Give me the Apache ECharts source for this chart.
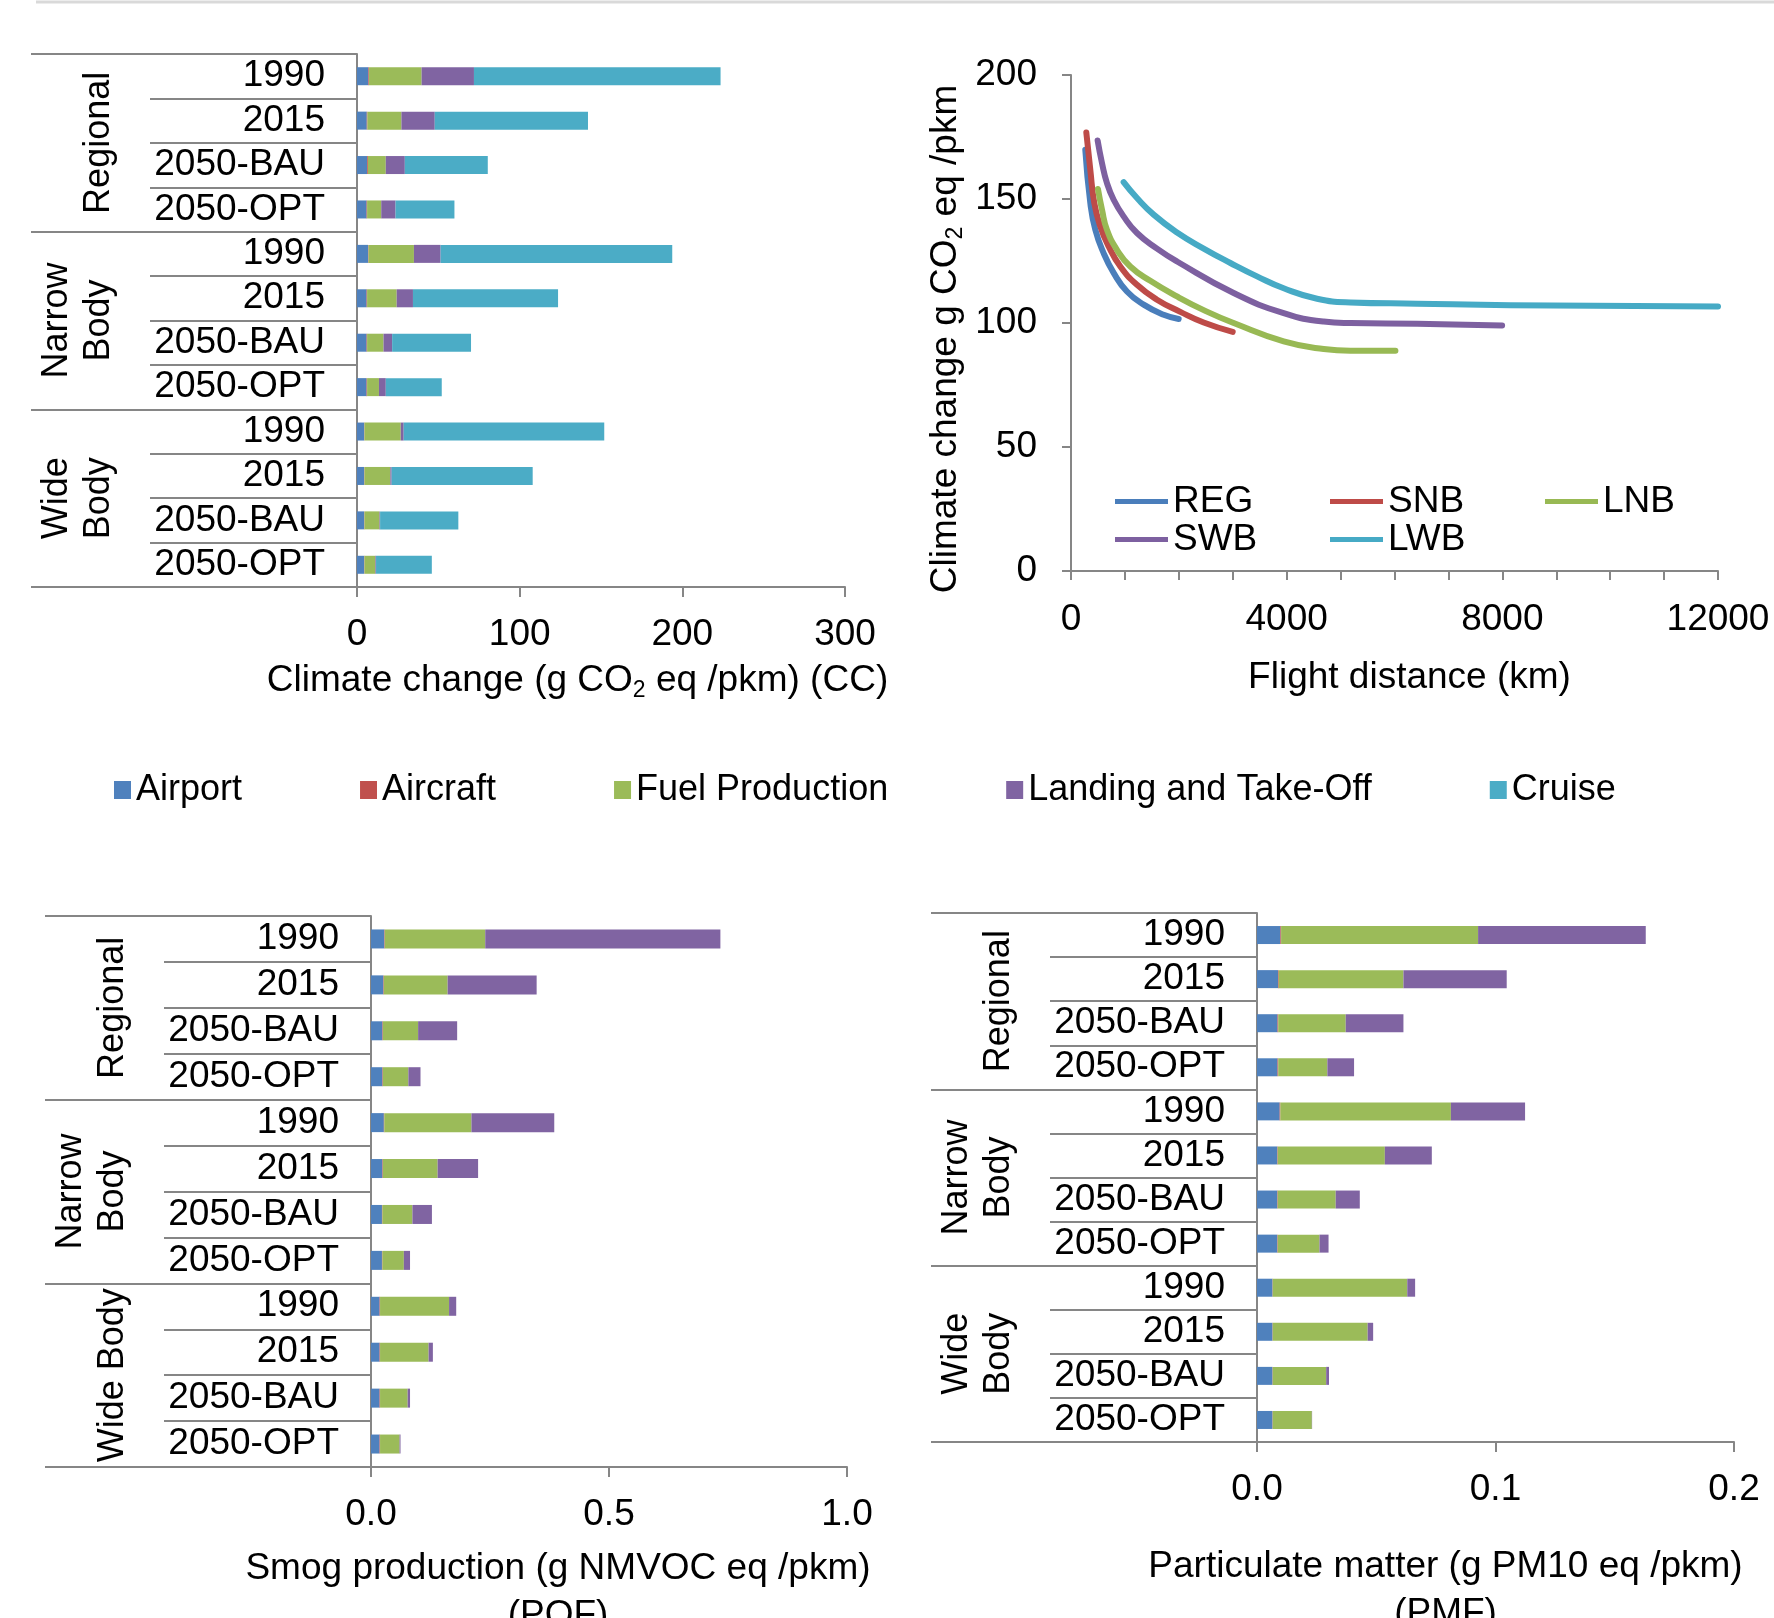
<!DOCTYPE html>
<html>
<head>
<meta charset="utf-8">
<script src="https://cdn.jsdelivr.net/npm/echarts@6/dist/echarts.min.js"></script>
<style>
  html, body { margin: 0; padding: 0; background: #fff; }
  #chart { width: 1774px; height: 1618px; }
</style>
</head>
<body>
<div id="chart"></div>
<script>
// categories
const years = ['1990', '2015', '2050-BAU', '2050-OPT', '1990', '2015', '2050-BAU', '2050-OPT', '1990', '2015', '2050-BAU', '2050-OPT'];
const groups = ['Regional', 'Narrow\nBody', 'Wide\nBody'];
const groupsPof = ['Regional', 'Narrow\nBody', 'Wide Body'];
const parts = ['Airport', 'Aircraft', 'Fuel Production', 'Landing and Take-Off', 'Cruise'];

// climate change (g CO2 eq / pkm)
const ccAirport = [7.0, 6.0, 6.2, 5.9, 6.8, 5.9, 5.9, 5.9, 4.4, 4.4, 4.4, 4.4];
const ccAircraft = [0.4, 0.4, 0.5, 0.3, 0.3, 0.3, 0.3, 0.3, 0.2, 0.2, 0.2, 0.2];
const ccFuel = [32.3, 20.9, 11.0, 8.7, 27.9, 18.2, 10.1, 7.3, 22.3, 15.9, 9.2, 6.7];
const ccLto = [32.2, 20.5, 11.7, 8.8, 16.4, 10.0, 5.3, 4.2, 1.8, 0.8, 0.4, 0.4];
const ccCruise = [151.6, 94.2, 51.0, 36.2, 142.4, 89.2, 48.5, 34.4, 123.3, 86.7, 48.1, 34.3];

// smog production (g NMVOC eq / pkm)
const pofAirport = [0.028, 0.026, 0.024, 0.024, 0.027, 0.024, 0.023, 0.023, 0.018, 0.018, 0.018, 0.018];
const pofAircraft = [0.001, 0.001, 0.001, 0.001, 0.001, 0.001, 0.001, 0.001, 0.001, 0.001, 0.001, 0.001];
const pofFuel = [0.211, 0.134, 0.074, 0.0535, 0.183, 0.115, 0.063, 0.045, 0.145, 0.102, 0.058, 0.041];
const pofLto = [0.494, 0.187, 0.082, 0.0255, 0.174, 0.085, 0.041, 0.013, 0.015, 0.009, 0.005, 0.002];
const pofCruise = [0, 0, 0, 0, 0, 0, 0, 0, 0, 0, 0, 0];

// particulate matter (g PM10 eq / pkm)
const pmfAirport = [0.0098, 0.0088, 0.0086, 0.0086, 0.0095, 0.0085, 0.0085, 0.0085, 0.0065, 0.0065, 0.0065, 0.0065];
const pmfAircraft = [0.0003, 0.0003, 0.0003, 0.0003, 0.0003, 0.0002, 0.0002, 0.0002, 0.0001, 0.0001, 0.0001, 0.0001];
const pmfFuel = [0.0826, 0.0523, 0.0283, 0.0206, 0.0715, 0.0449, 0.0243, 0.0175, 0.0564, 0.0398, 0.0224, 0.0164];
const pmfLto = [0.0703, 0.0433, 0.0242, 0.0112, 0.0311, 0.0197, 0.0101, 0.0038, 0.0033, 0.0023, 0.0012, 0.0001];
const pmfCruise = [0, 0, 0, 0, 0, 0, 0, 0, 0, 0, 0, 0];

// climate change vs flight distance (km, g CO2 eq / pkm)
const regDist = [265, 358, 451, 605, 791, 1038, 1348, 1719, 1997];
const regCc = [169.9, 148.4, 137.6, 128.2, 120.2, 112.7, 107.4, 103.3, 101.6];
const snbDist = [284, 358, 432, 544, 698, 915, 1224, 1595, 2028, 2461, 2999];
const snbCc = [176.8, 161.8, 148.4, 138.9, 130.9, 122.8, 115.4, 109.4, 104.5, 100.2, 96.4];
const lnbDist = [500, 575, 667, 853, 1100, 1471, 1966, 2500, 3017, 3945, 4687, 5182, 6017];
const lnbCc = [154, 145.7, 137.6, 129.5, 122.8, 117, 110.7, 104.8, 100, 92.6, 89.5, 88.8, 88.8];
const swbDist = [494, 575, 667, 791, 976, 1224, 1595, 1967, 3017, 3945, 4687, 5182, 6419, 7996];
const swbCc = [173.6, 164.5, 156.4, 149.7, 143, 136.3, 130, 124.8, 112.1, 104, 100.6, 100, 99.7, 99];
const lwbDist = [976, 1224, 1533, 1966, 2461, 2956, 3450, 3945, 4564, 5182, 6419, 8150, 12000];
const lwbCc = [156.8, 150.4, 143.7, 136.5, 130, 124.2, 118.8, 114, 109.8, 108.3, 107.8, 107.2, 106.7];

const FONT = 'Liberation Sans, Arial, sans-serif';
const AXIS = '#868686';
const partColors = ['#4F81BD', '#C0504D', '#9BBB59', '#8064A2', '#4BACC6'];
const lineColors = { REG: '#4A7EBB', SNB: '#BE4B48', LNB: '#98B954', SWB: '#7D60A0', LWB: '#46AAC5' };

const chart = echarts.init(document.getElementById('chart'));

const axisLine = { show: true, lineStyle: { color: AXIS, width: 2 } };
const subRich = {
    a: { fontSize: 37, lineHeight: 42, color: '#000', fontFamily: FONT },
    s: { fontSize: 23, lineHeight: 23, verticalAlign: 'bottom', color: '#000', fontFamily: FONT }
};

function yearAxis(gridIndex) {
    return {
        type: 'category', gridIndex, data: years, inverse: true, position: 'left',
        axisLine,
        axisTick: { show: true, interval: 0, length: 207, lineStyle: { color: AXIS, width: 2 } },
        axisLabel: { interval: 0, margin: 32, fontSize: 37, color: '#000', fontFamily: FONT },
        splitLine: { show: false }
    };
}

function groupAxis(gridIndex, data) {
    return {
        type: 'category', gridIndex, data, inverse: true, position: 'left', offset: 0,
        axisLine: { show: false },
        axisTick: { show: true, interval: 0, length: 326, lineStyle: { color: AXIS, width: 2 } },
        axisLabel: { interval: 0, rotate: 90, margin: 237, fontSize: 36, lineHeight: 42, color: '#000', fontFamily: FONT },
        splitLine: { show: false }
    };
}

function valueAxis(gridIndex, max, interval, digits, name, nameGap, padRight) {
    return {
        type: 'value', gridIndex, min: 0, max, interval,
        axisLine,
        axisTick: { show: true, length: 10, lineStyle: { color: AXIS, width: 2 } },
        splitLine: { show: false },
        axisLabel: {
            margin: 29, fontSize: 37, color: '#000', fontFamily: FONT,
            formatter: v => v.toFixed(digits)
        },
        name, nameLocation: 'middle', nameGap,
        nameTextStyle: {
            fontSize: 37, color: '#000', fontFamily: FONT, lineHeight: 47,
            padding: [0, padRight, 0, 0],
            rich: subRich
        }
    };
}

function barSeries(stack, xIdx, yIdx, lists, width) {
    return lists.map((data, i) => ({
        type: 'bar', name: parts[i], stack, xAxisIndex: xIdx, yAxisIndex: yIdx,
        data, barWidth: width, itemStyle: { color: partColors[i] }, silent: true
    }));
}

function lineSeries(name, dist, vals) {
    return {
        type: 'line', name, xAxisIndex: 1, yAxisIndex: 2,
        data: dist.map((d, i) => [d, vals[i]]),
        smooth: 0.5, symbol: 'none',
        lineStyle: { width: 6, color: lineColors[name], cap: 'round', join: 'round' },
        itemStyle: { color: lineColors[name] }
    };
}

// one legend per line so the entries sit in fixed columns
const lineLegend = (name, left, top) => ({
    data: [name], top, left, icon: 'rect',
    itemWidth: 53, itemHeight: 5, selectedMode: false,
    textStyle: { fontSize: 37, color: '#000', fontFamily: FONT }
});

const option = {
    animation: false,
    backgroundColor: '#fff',
    graphic: [{
        type: 'line', shape: { x1: 36, y1: 2, x2: 1774, y2: 2 },
        style: { stroke: '#d9d9d9', lineWidth: 3 }
    }],
    legend: [
        {
            data: parts, top: 767, left: 109, icon: 'rect', itemWidth: 17, itemHeight: 18, itemGap: 118,
            selectedMode: false,
            textStyle: { fontSize: 36, color: '#000', fontFamily: FONT }
        },
        lineLegend('REG', 1110, 478),
        lineLegend('SNB', 1325, 478),
        lineLegend('LNB', 1540, 478),
        lineLegend('SWB', 1110, 516),
        lineLegend('LWB', 1325, 516)
    ],
    grid: [
        { left: 357, top: 54, width: 488, height: 533, outerBoundsMode: 'none', containLabel: false },
        { left: 1071, top: 75, width: 647, height: 496, outerBoundsMode: 'none', containLabel: false },
        { left: 371, top: 916, width: 476, height: 551, outerBoundsMode: 'none', containLabel: false },
        { left: 1257, top: 913, width: 477, height: 529, outerBoundsMode: 'none', containLabel: false }
    ],
    xAxis: [
        valueAxis(0, 300, 100, 0, '{a|Climate change (g CO}{s|2}{a| eq /pkm) (CC)}', 73, 47),
        {
            type: 'value', gridIndex: 1, min: 0, max: 12000, interval: 1000,
            axisLine,
            axisTick: { show: true, length: 9, lineStyle: { color: AXIS, width: 2 } },
            splitLine: { show: false },
            axisLabel: {
                margin: 30, fontSize: 37, color: '#000', fontFamily: FONT,
                formatter: v => (v % 4000 === 0 ? String(v) : '')
            },
            name: 'Flight distance (km)', nameLocation: 'middle', nameGap: 88,
            nameTextStyle: { fontSize: 37, color: '#000', fontFamily: FONT, padding: [0, 0, 0, 30] }
        },
        valueAxis(2, 1, 0.5, 1, 'Smog production (g NMVOC eq /pkm)\n(POF)', 78, 102),
        valueAxis(3, 0.2, 0.1, 1, 'Particulate matter (g PM10 eq /pkm)\n(PMF)', 101, 100)
    ],
    yAxis: [
        yearAxis(0),
        groupAxis(0, groups),
        {
            type: 'value', gridIndex: 1, min: 0, max: 200, interval: 50,
            axisLine,
            axisTick: { show: true, length: 9, lineStyle: { color: AXIS, width: 2 } },
            splitLine: { show: false },
            axisLabel: { margin: 34, fontSize: 37, color: '#000', fontFamily: FONT },
            name: '{a|Climate change g CO}{s|2}{a| eq /pkm}', nameLocation: 'middle', nameGap: 104, nameRotate: 90,
            nameTextStyle: {
                fontSize: 37, color: '#000', fontFamily: FONT, padding: [0, 32, 0, 0],
                rich: subRich
            }
        },
        yearAxis(2),
        groupAxis(2, groupsPof),
        yearAxis(3),
        groupAxis(3, groups)
    ],
    series: [
        ...barSeries('cc', 0, 0, [ccAirport, ccAircraft, ccFuel, ccLto, ccCruise], 18),
        lineSeries('REG', regDist, regCc),
        lineSeries('SNB', snbDist, snbCc),
        lineSeries('LNB', lnbDist, lnbCc),
        lineSeries('SWB', swbDist, swbCc),
        lineSeries('LWB', lwbDist, lwbCc),
        ...barSeries('pof', 2, 3, [pofAirport, pofAircraft, pofFuel, pofLto, pofCruise], 19),
        ...barSeries('pmf', 3, 5, [pmfAirport, pmfAircraft, pmfFuel, pmfLto, pmfCruise], 18)
    ]
};

chart.setOption(option);
</script>
</body>
</html>
